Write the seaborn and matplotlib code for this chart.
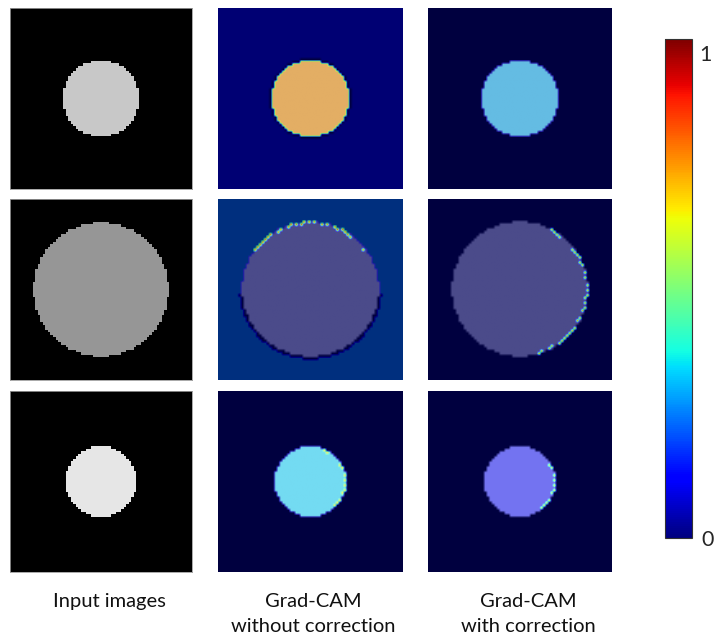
import numpy as np
import matplotlib
matplotlib.use("Agg")
import matplotlib.pyplot as plt
import seaborn as sns

# ---------------- data ----------------
row_ids = ["small bright", "large dim", "small brightest"]
disc_radius = [0.21, 0.37, 0.195]            # disc radius, fraction of image width
input_gray = [0.784, 0.588, 0.902]           # disc intensity of the input image (bg = 0)
cam_bg_without = [0.09, 0.22, 0.0]           # Grad-CAM value of background, without correction
cam_disc_without = [0.75, 0.0, 0.33]         # Grad-CAM value inside disc, without correction
cam_bg_with = [0.0, 0.0, 0.0]                # Grad-CAM value of background, with correction
cam_disc_with = [0.30, 0.0, 0.11]            # Grad-CAM value inside disc, with correction
# rim artefacts: (row, column, ring, angle_from, angle_to, value, speckled)
rim_artefacts = [
    (0, 1, "out", 0, 360, 0.0, False),
    (1, 1, "in", 35, 145, 0.85, True),
    (1, 1, "out", 185, 355, 0.0, False),
    (1, 2, "in", -75, 65, 0.75, True),
    (2, 1, "in", -45, 70, 0.7, True),
    (2, 2, "in", -55, 60, 0.65, True),
]
column_titles = ["Input images", "Grad-CAM\nwithout correction", "Grad-CAM\nwith correction"]
cbar_ticks = [0, 1]

N = 72  # pixel grid of each image

# ---------------- build images ----------------
yy, xx = np.mgrid[0:N, 0:N]
cx = cy = (N - 1) / 2.0


def disc_masks(r):
    d = np.hypot(xx - cx, yy - cy)
    rad = r * N
    inside = d <= rad
    ring_in = inside & (d > rad - 1.0)
    ring_out = (~inside) & (d <= rad + 1.0)
    ang = np.degrees(np.arctan2(cy - yy, xx - cx))
    return inside, ring_in, ring_out, ang


def in_sector(ang, a0, a1):
    span = (a1 - a0) % 360
    if span == 0:
        span = 360
    return ((ang - a0) % 360) <= span


inputs, heats = [], []
for i in range(3):
    inside, ring_in, ring_out, ang = disc_masks(disc_radius[i])
    img = np.where(inside, input_gray[i], 0.0)
    inputs.append(img)
    hrow = []
    for j, (bg, dv) in enumerate([(cam_bg_without[i], cam_disc_without[i]),
                                  (cam_bg_with[i], cam_disc_with[i])], start=1):
        h = np.where(inside, dv, bg).astype(float)
        for (r, c, ring, a0, a1, val, speck) in rim_artefacts:
            if r == i and c == j:
                m = (ring_in if ring == "in" else ring_out) & in_sector(ang, a0, a1)
                if speck:
                    m = m & (((xx + yy) % 2) == 0)
                h[m] = val
        hrow.append(h)
    heats.append(hrow)

# ---------------- figure ----------------
W, H = 719, 641
fig = plt.figure(figsize=(W / 100, H / 100), dpi=100)
sns.set_style("white")
plt.rcParams["font.family"] = ["Lato", "DejaVu Sans"]

col_px = [(10, 192), (218, 403), (428, 612)]
row_px = [(8, 189), (199, 380), (391, 572)]

for i in range(3):
    for j in range(3):
        x0, x1 = col_px[j]
        y0, y1 = row_px[i]
        ax = fig.add_axes([x0 / W, 1 - y1 / H, (x1 - x0) / W, (y1 - y0) / H])
        sns.heatmap(inputs[i], ax=ax, cmap="gray", vmin=0, vmax=1, cbar=False,
                    xticklabels=False, yticklabels=False, square=False)
        if j > 0:
            # smooth (resampled) grey base under the heat map
            ax.imshow(inputs[i], cmap="gray", vmin=0, vmax=1,
                      interpolation="bilinear", extent=(0, N, N, 0),
                      aspect="auto", zorder=2)
            ax.imshow(heats[i][j - 1], cmap="jet", vmin=0, vmax=1, alpha=0.5,
                      interpolation="bilinear", interpolation_stage="data",
                      extent=(0, N, N, 0), aspect="auto", zorder=3)
            ax.set_xlim(0, N)
            ax.set_ylim(N, 0)
        ax.set_xticks([])
        ax.set_yticks([])
        for s in ax.spines.values():
            s.set_visible(True)
            s.set_color("#9a9a9a" if j == 0 else "none")
            s.set_linewidth(0.6)

# column titles
title_x = [109, 313, 528]
for j, t in enumerate(column_titles):
    fig.text(title_x[j] / W, 1 - 593 / H, t, ha="center", va="top",
             fontsize=14.5, color="#111111", linespacing=1.6)

# colorbar
cax = fig.add_axes([665 / W, 1 - 538 / H, 27 / W, 499 / H])
sm = matplotlib.cm.ScalarMappable(norm=matplotlib.colors.Normalize(0, 1), cmap="jet")
cb = fig.colorbar(sm, cax=cax)
cb.set_ticks([])
cb.outline.set_linewidth(0.8)
cb.outline.set_edgecolor("#333333")
fig.text(705 / W, 1 - 55 / H, str(cbar_ticks[1]), ha="center", va="center", fontsize=15.5)
fig.text(708 / W, 1 - 540 / H, str(cbar_ticks[0]), ha="center", va="center", fontsize=15.5)

fig.savefig("out.png", dpi=100, facecolor="white")
